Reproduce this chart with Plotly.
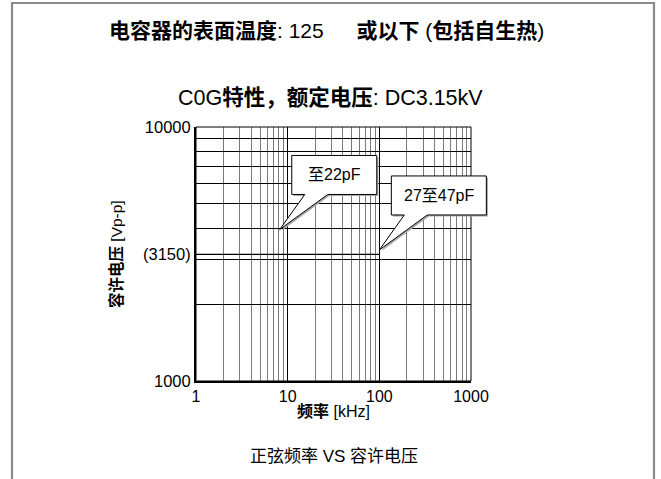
import math
import plotly.graph_objects as go

# Allowable voltage held at 3150 Vp-p from 1 kHz up to 100 kHz
line_freq_khz = [1, 100]
line_voltage_vpp = [3150, 3150]

# Callout labels and the point each one refers to
callout_labels = ["至22pF", "27至47pF"]
callout_freq_khz = [8.2, 100]
callout_voltage_vpp = [3950, 3280]

# Axis ticks
x_tick_vals = [1, 10, 100, 1000]
x_tick_text = ["1", "10", "100", "1000"]
y_tick_vals = [1000, 3150, 10000]
y_tick_text = ["1000", "(3150)", "10000"]

# Log grid lines
x_minor_grid = [m * 10 ** k for k in range(3) for m in range(2, 10)]
y_grid = [m * 1000 for m in range(2, 10)]

# Page geometry (pixels)
W, H = 661, 479
L, R, T, B = 196, 190, 127, 98
PW, PH = W - L - R, H - T - B
X_RANGE = [0, 3]
Y_RANGE = [3, 4]

FONT = "Liberation Sans, Arial, Noto Sans CJK SC, sans-serif"


def px_x(px):
    return (px - L) / PW


def px_y(py):
    return (H - B - py) / PH


def data_to_paper(f, v):
    fx = (math.log10(f) - X_RANGE[0]) / (X_RANGE[1] - X_RANGE[0])
    fy = (math.log10(v) - Y_RANGE[0]) / (Y_RANGE[1] - Y_RANGE[0])
    return fx, fy


fig = go.Figure()
fig.add_trace(go.Scatter(
    x=line_freq_khz, y=line_voltage_vpp, mode="lines",
    line=dict(color="black", width=1.2), hoverinfo="skip", showlegend=False,
))

shapes = []
annotations = []

# Outer grey frame (open at the bottom)
shapes.append(dict(
    type="path", xref="paper", yref="paper",
    path=(f"M {px_x(12)},{px_y(490)} L {px_x(12)},{px_y(3)} "
          f"L {px_x(654)},{px_y(3)} L {px_x(654)},{px_y(490)}"),
    line=dict(color="#8a8a8a", width=2.2), layer="above",
))

# Thin top/right plot border
shapes.append(dict(
    type="rect", xref="paper", yref="paper", x0=0, x1=1, y0=0, y1=1,
    line=dict(color="black", width=1), layer="above",
))

# Speech-bubble callouts (pixel offsets from the pointed-at location)
box_dx0, box_top, box_bot = 12, -74, -35
wedge_dx = (25, 48)
box_widths = [85, 95]


def bubble_path(tx, ty, width, sx=0.0, sy=0.0):
    def p(dx, dy):
        return f"{tx + (dx + sx) / PW},{ty - (dy + sy) / PH}"
    return (f"M {p(0, 0)} L {p(wedge_dx[0], box_bot)} L {p(box_dx0, box_bot)} "
            f"L {p(box_dx0, box_top)} L {p(box_dx0 + width, box_top)} "
            f"L {p(box_dx0 + width, box_bot)} L {p(wedge_dx[1], box_bot)} Z")


for label, f, v, wbox in zip(callout_labels, callout_freq_khz,
                             callout_voltage_vpp, box_widths):
    tx, ty = data_to_paper(f, v)
    shapes.append(dict(
        type="path", xref="paper", yref="paper",
        path=bubble_path(tx, ty, wbox, 1.6, 1.6),
        fillcolor="#a8a8a8", line=dict(width=0), layer="above",
    ))
    shapes.append(dict(
        type="path", xref="paper", yref="paper",
        path=bubble_path(tx, ty, wbox),
        fillcolor="white", line=dict(color="black", width=1), layer="above",
    ))
    annotations.append(dict(
        xref="paper", yref="paper",
        x=tx + (box_dx0 + wbox / 2) / PW,
        y=ty - ((box_top + box_bot) / 2) / PH,
        text=label, showarrow=False, xanchor="center", yanchor="middle",
        font=dict(family=FONT, size=16, color="black"),
    ))

# Titles and axis labels
texts = [
    ("<b>电容器的表面温度</b>: 125  　<b>或以下</b> (<b>包括自生热</b>)", 326, 30, 21, 0),
    ("C0G<b>特性，额定电压</b>: DC3.15kV", 330, 97, 21.5, 0),
    ("<b>容许电压</b> [Vp-p]", 116, 254, 15.5, -90),
    ("<b>频率</b> [kHz]", 333, 411, 16, 0),
    ("正弦频率 VS 容许电压", 334, 456, 17, 0),
]
for txt, cx, cy, size, ang in texts:
    annotations.append(dict(
        xref="paper", yref="paper", x=px_x(cx), y=px_y(cy), text=txt,
        showarrow=False, xanchor="center", yanchor="middle", textangle=ang,
        font=dict(family=FONT, size=size, color="black"),
    ))

fig.update_layout(
    width=W, height=H,
    margin=dict(l=L, r=R, t=T, b=B),
    paper_bgcolor="white", plot_bgcolor="white",
    font=dict(family=FONT, size=15, color="black"),
    showlegend=False,
    shapes=shapes,
    annotations=annotations,
    xaxis=dict(
        type="log", range=X_RANGE, tickmode="array",
        tickvals=x_tick_vals, ticktext=x_tick_text,
        showgrid=True, gridcolor="black", gridwidth=1,
        minor=dict(tickmode="array", tickvals=x_minor_grid, showgrid=True,
                   gridcolor="#7a7a7a", gridwidth=1, ticks=""),
        showline=True, linecolor="black", linewidth=2, mirror=False,
        ticks="", zeroline=False,
        tickfont=dict(family=FONT, size=16, color="black"),
    ),
    yaxis=dict(
        type="log", range=Y_RANGE, tickmode="array",
        tickvals=y_tick_vals, ticktext=y_tick_text,
        showgrid=False,
        minor=dict(tickmode="array", tickvals=y_grid, showgrid=True,
                   gridcolor="black", gridwidth=1, ticks=""),
        showline=True, linecolor="black", linewidth=2, mirror=False,
        ticks="", zeroline=False,
        tickfont=dict(family=FONT, size=16.5, color="black"),
    ),
)

fig.write_html("out.html")
